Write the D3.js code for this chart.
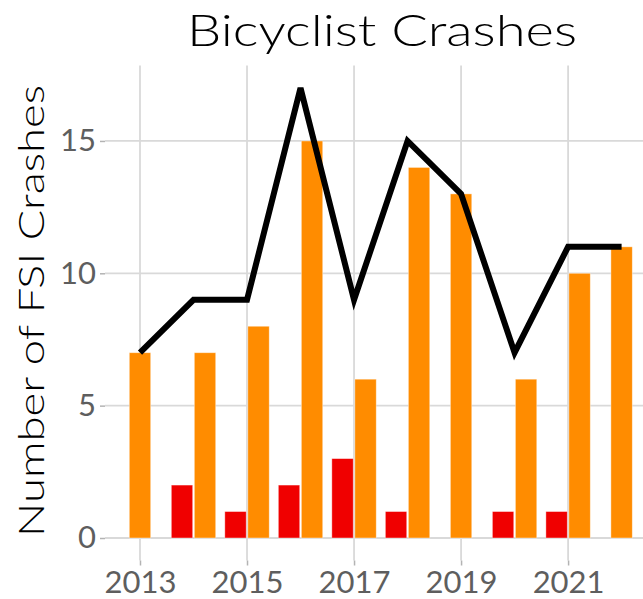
<!DOCTYPE html>
<html>
<head>
<meta charset="utf-8">
<script src="https://cdn.jsdelivr.net/npm/d3@7"></script>
<style>
    body { margin: 0; background: #fff; }
    text { font-family: "Lato", "Open Sans", sans-serif; }
</style>
</head>
<body>
<script>
// values
var years = [2013, 2014, 2015, 2016, 2017, 2018, 2019, 2020, 2021, 2022];
var fatalCrashes = [0, 2, 1, 2, 3, 1, 0, 1, 1, 0];
var seriousCrashes = [7, 7, 8, 15, 6, 14, 13, 6, 10, 11];
var totalCrashes = [7, 9, 9, 17, 9, 15, 13, 7, 11, 11];
var xTicks = [2013, 2015, 2017, 2019, 2021];
var yTicks = [0, 5, 10, 15];

function crashChart() {
    var _width = 643;
    var _height = 599;
    var _chart = {};
    var _margin = {top: 65.5, left: 105, right: 0, bottom: 38.5};
    var _barWidth = 0.4;
    var _svg;

    var _x = d3.scaleLinear()
        .domain([2012.346, 2022.4])
        .range([_margin.left, _width - _margin.right]);
    var _y = d3.scaleLinear()
        .domain([-0.85, 17.85])
        .range([_height - _margin.bottom, _margin.top]);

    function barData() {
        var out = [];
        years.forEach(function (yr, i) {
            var hasFatal = fatalCrashes[i] > 0;
            if (hasFatal)
                out.push({year: yr, value: fatalCrashes[i], offset: -0.215, color: "#f00000"});
            out.push({year: yr, value: seriousCrashes[i], offset: hasFatal ? 0.215 : 0, color: "#ff8c00"});
        });
        return out;
    }

    _chart.render = function () {
        _svg = d3.select("body").append("svg")
            .attr("width", _width)
            .attr("height", _height);

        renderGrid();
        renderBars();
        renderLine();
        renderAxes();
        renderTitles();
    };

    function renderGrid() {
        var g = _svg.append("g").attr("class", "grid");
        var top = _margin.top, bottom = _height - _margin.bottom;

        g.selectAll("line.v").data(xTicks).enter().append("line")
            .attr("class", "v")
            .attr("x1", function (d) { return _x(d); })
            .attr("x2", function (d) { return _x(d); })
            .attr("y1", top).attr("y2", bottom);

        g.selectAll("line.h").data(yTicks).enter().append("line")
            .attr("class", "h")
            .attr("x1", _margin.left).attr("x2", _width)
            .attr("y1", function (d) { return _y(d); })
            .attr("y2", function (d) { return _y(d); });

        g.selectAll("line")
            .attr("stroke", "#d9d9d9")
            .attr("stroke-width", 1.8);
    }

    function renderBars() {
        var w = _x(_barWidth) - _x(0);
        _svg.append("g").selectAll("rect")
            .data(barData())
            .enter().append("rect")
            .attr("x", function (d) { return _x(d.year + d.offset) - w / 2; })
            .attr("width", w)
            .attr("y", function (d) { return _y(d.value); })
            .attr("height", function (d) { return _y(0) - _y(d.value); })
            .attr("fill", function (d) { return d.color; })
            .attr("stroke", "rgba(255,255,255,0.5)")
            .attr("stroke-width", 0.8);
    }

    function renderLine() {
        var line = d3.line()
            .x(function (d, i) { return _x(years[i]); })
            .y(function (d) { return _y(d); });
        _svg.append("path")
            .datum(totalCrashes)
            .attr("d", line)
            .attr("fill", "none")
            .attr("stroke", "#000")
            .attr("stroke-width", 6)
            .attr("stroke-linejoin", "miter");
    }

    function renderAxes() {
        var bottom = _height - _margin.bottom;

        var xAxis = d3.axisBottom(_x)
            .tickValues(xTicks)
            .tickFormat(d3.format("d"))
            .tickSizeInner(5).tickSizeOuter(0).tickPadding(5);
        var xg = _svg.append("g")
            .attr("transform", "translate(0," + bottom + ")")
            .call(xAxis);

        var yAxis = d3.axisLeft(_y)
            .tickValues(yTicks)
            .tickSizeInner(5).tickSizeOuter(0).tickPadding(4);
        var yg = _svg.append("g")
            .attr("transform", "translate(" + _margin.left + ",0)")
            .call(yAxis);

        [xg, yg].forEach(function (g) {
            g.select(".domain").remove();
            g.selectAll(".tick line").attr("stroke", "#b3b3b3").attr("stroke-width", 1.5);
            g.selectAll(".tick text")
                .attr("fill", "#5e5e5e")
                .style("font-size", "31px");
        });
    }

    function renderTitles() {
        _svg.append("text")
            .attr("x", 382)
            .attr("y", 46)
            .attr("text-anchor", "middle")
            .attr("textLength", 390)
            .attr("lengthAdjust", "spacingAndGlyphs")
            .style("font-size", "44px")
            .style("font-weight", 300)
            .attr("fill", "#000")
            .text("Bicyclist Crashes");

        _svg.append("text")
            .attr("transform", "translate(44,311) rotate(-90)")
            .attr("text-anchor", "middle")
            .attr("textLength", 452)
            .attr("lengthAdjust", "spacingAndGlyphs")
            .style("font-size", "35px")
            .style("font-weight", 300)
            .attr("fill", "#000")
            .text("Number of FSI Crashes");
    }

    return _chart;
}

crashChart().render();
</script>
</body>
</html>
